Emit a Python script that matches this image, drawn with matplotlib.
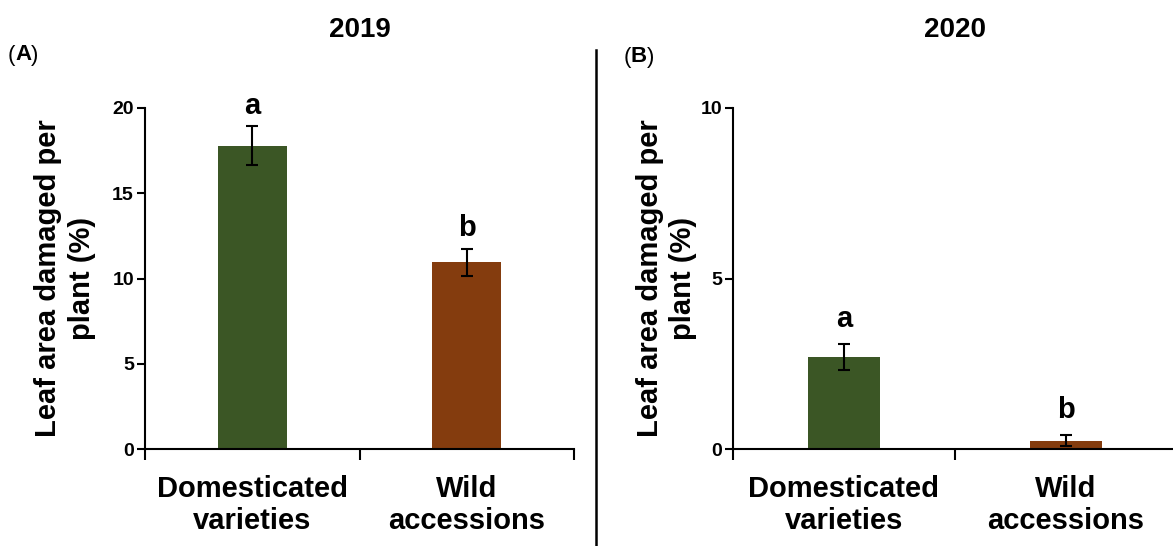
import matplotlib
matplotlib.use("Agg")
import matplotlib.pyplot as plt
from matplotlib.lines import Line2D

plt.rcParams['font.family'] = ['Liberation Sans', 'DejaVu Sans']

categories = ["Domesticated\nvarieties", "Wild\naccessions"]
colors = ["#3B5625", "#843C0E"]

mean_2019 = [17.8, 10.95]
err_2019 = [1.15, 0.8]
letters_2019 = ["a", "b"]

mean_2020 = [2.7, 0.24]
err_2020 = [0.38, 0.16]
letters_2020 = ["a", "b"]

W, H = 1173, 546
fig = plt.figure(figsize=(W / 100, H / 100), dpi=100)


def panel(rect, means, errs, letters, letter_pad, ymax, yticks, title, tag, tag_xy, ylab_x):
    ax = fig.add_axes(rect)
    x = range(len(means))
    ax.bar(x, means, width=0.32, color=colors, edgecolor="none", zorder=2)
    ax.errorbar(x, means, yerr=errs, fmt="none", ecolor="black",
                elinewidth=1.5, capsize=4, capthick=1.5, zorder=3)
    for xi, m, e, lab in zip(x, means, errs, letters):
        ax.annotate(lab, (xi, m + e), xytext=(0, letter_pad), textcoords="offset points",
                    ha="center", va="bottom", fontsize=21, fontweight="bold")
    ax.set_xlim(-0.5, 1.5)
    ax.set_ylim(0, ymax)
    ax.set_yticks(yticks)
    ax.set_yticklabels([str(t) for t in yticks], fontsize=14, fontweight="bold")
    ax.set_xticks(list(x))
    ax.set_xticklabels(categories, fontsize=21, fontweight="bold", linespacing=1.15)
    ax.tick_params(axis="x", which="major", length=0, pad=19)
    ax.set_xticks([-0.5, 0.5, 1.5], minor=True)
    ax.tick_params(axis="x", which="minor", length=8, width=1.5, direction="out")
    ax.tick_params(axis="y", length=6, width=1.5, direction="out", pad=2)
    for s in ("top", "right"):
        ax.spines[s].set_visible(False)
    for s in ("left", "bottom"):
        ax.spines[s].set_linewidth(1.5)
    ax.set_ylabel("Leaf area damaged per\nplant (%)", fontsize=21,
                  fontweight="bold", linespacing=1.26)
    ax.yaxis.set_label_coords(ylab_x, 0.5)
    ax.set_title(title, fontsize=20, fontweight="bold", pad=51)
    # panel tag: bold letter between regular parentheses
    tx, ty = tag_xy
    fig.text(tx, ty, "(", fontsize=16, va="center", ha="left")
    fig.text(tx + 7 / W, ty, tag, fontsize=16, fontweight="bold", va="center", ha="left")
    fig.text(tx + 23 / W, ty, ")", fontsize=16, va="center", ha="left")
    return ax


panel([145 / W, 1 - 449 / H, 429 / W, 341 / H], mean_2019, err_2019, letters_2019, 4.5,
      20, [0, 5, 10, 15, 20], "2019", "A", (8 / W, 1 - 55 / H), -0.114)
panel([733 / W, 1 - 449 / H, 444 / W, 341 / H], mean_2020, err_2020, letters_2020, 8,
      10, [0, 5, 10], "2020", "B", (624 / W, 1 - 57 / H), -0.08)

fig.add_artist(Line2D([596 / W, 596 / W], [1 - 50 / H, 0.0], transform=fig.transFigure,
                      color="black", linewidth=1.8))

fig.savefig("out.png", dpi=100)
